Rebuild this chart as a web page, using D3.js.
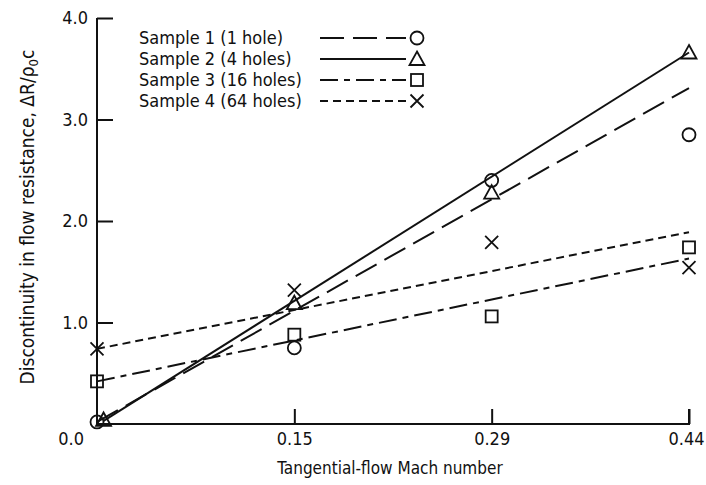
<!DOCTYPE html>
<html>
<head>
<meta charset="utf-8">
<script src="https://cdn.jsdelivr.net/npm/d3@7"></script>
<style>
  body { margin: 0; background: #fff; }
  text { font-family: "DejaVu Sans Condensed", "Liberation Sans Narrow", sans-serif; fill: #111; }
</style>
</head>
<body>
<script>
// Mach numbers at the tick positions (axis is drawn evenly spaced)
const machTicks = [0, 0.15, 0.29, 0.44];
const machLabels = ['0.15', '0.29', '0.44'];
const resTicks = [1, 2, 3, 4];
const resLabels = ['1.0', '2.0', '3.0', '4.0'];

const seriesNames = ['Sample 1 (1 hole)', 'Sample 2 (4 holes)', 'Sample 3 (16 holes)', 'Sample 4 (64 holes)'];

// measured points [mach, dR/rho0c]
const sample1 = [[0, 0.02], [0.15, 0.75], [0.29, 2.40], [0.44, 2.85]];
const sample2 = [[0.005, 0.04], [0.15, 1.19], [0.29, 2.28], [0.44, 3.66]];
const sample3 = [[0, 0.42], [0.15, 0.88], [0.29, 1.06], [0.44, 1.74]];
const sample4 = [[0, 0.74], [0.15, 1.32], [0.29, 1.79], [0.44, 1.54]];

// faired lines (end points)
const fit1 = [[0, 0.02], [0.44, 3.31]];
const fit2 = [[0.005, 0.03], [0.44, 3.66]];
const fit3 = [[0, 0.42], [0.44, 1.63]];
const fit4 = [[0, 0.74], [0.44, 1.89]];

const width = 706, height = 485;
const mLeft = 97, mRight = 689, mTop = 18, mBottom = 424;

const svg = d3.select('body').append('svg')
  .attr('width', width)
  .attr('height', height);

// piecewise scale: tick values are evenly spaced on the drawing
const x = d3.scaleLinear()
  .domain(machTicks)
  .range(machTicks.map((d, i) => mLeft + i * (mRight - mLeft) / (machTicks.length - 1)));
const y = d3.scaleLinear().domain([0, 4]).range([mBottom, mTop]);

// axes
const xAxis = svg.append('g')
  .attr('transform', `translate(0,${mBottom})`)
  .call(d3.axisBottom(x).tickValues(machTicks.slice(1)).tickSize(-15).tickSizeOuter(0)
    .tickFormat((d, i) => machLabels[i]));
const yAxis = svg.append('g')
  .attr('transform', `translate(${mLeft},0)`)
  .call(d3.axisLeft(y).tickValues(resTicks).tickSize(-16).tickSizeOuter(0)
    .tickFormat((d, i) => resLabels[i]));

[xAxis, yAxis].forEach(g => {
  g.select('.domain').attr('stroke', '#111').attr('stroke-width', 2);
  g.selectAll('.tick line').attr('stroke', '#111').attr('stroke-width', 2);
  g.selectAll('.tick text').style('font-size', '18px').attr('fill', '#111')
    .style('font-family', '"DejaVu Sans Condensed", sans-serif');
});
xAxis.select('.domain').attr('d', `M${mLeft},0H${mRight}V-15`);
yAxis.select('.domain').attr('d', `M0,${mBottom}V${mTop}`);
// x tick labels sit below the axis (ticks point up)
xAxis.selectAll('.tick text').attr('y', 8).attr('dy', '0.71em');
xAxis.selectAll('.tick:last-of-type text').attr('x', -3);
// y ticks point right
yAxis.selectAll('.tick text').attr('x', -9);

svg.append('text')
  .attr('x', mLeft - 13).attr('y', mBottom + 21)
  .attr('text-anchor', 'end')
  .style('font-size', '18px')
  .text('0.0');

// axis titles
svg.append('text')
  .attr('x', (mLeft + mRight) / 2 - 3).attr('y', 474)
  .attr('text-anchor', 'middle')
  .style('font-size', '17px')
  .text('Tangential-flow Mach number');

const yt = svg.append('text')
  .attr('transform', `translate(34,${(mTop + mBottom) / 2 - 4}) rotate(-90)`)
  .attr('text-anchor', 'middle')
  .style('font-size', '19px');
yt.append('tspan').text('Discontinuity in flow resistance,  ΔR/ρ');
yt.append('tspan').attr('dy', 4).style('font-size', '13px').text('0');
yt.append('tspan').attr('dy', -4).text('c');

// series styles
const series = [
  { name: seriesNames[0], pts: sample1, fit: fit1, dash: '24,9', sym: 'circle' },
  { name: seriesNames[1], pts: sample2, fit: fit2, dash: null, sym: 'triangle' },
  { name: seriesNames[2], pts: sample3, fit: fit3, dash: '18,6,6,6', sym: 'square' },
  { name: seriesNames[3], pts: sample4, fit: fit4, dash: '8,5', sym: 'cross' }
];

const line = d3.line().x(d => x(d[0])).y(d => y(d[1]));

function drawSymbol(g, sym, cx, cy) {
  const s = g.append('g').attr('transform', `translate(${cx},${cy})`)
    .attr('fill', 'none').attr('stroke', '#111').attr('stroke-width', 1.8);
  if (sym === 'circle') s.append('circle').attr('r', 6.5);
  if (sym === 'triangle') s.append('path').attr('d', 'M0,-7.5L7.5,6L-7.5,6Z');
  if (sym === 'square') s.append('rect').attr('x', -6).attr('y', -6).attr('width', 12).attr('height', 12);
  if (sym === 'cross') s.append('path').attr('d', 'M-6.5,-6.5L6.5,6.5M-6.5,6.5L6.5,-6.5');
}

series.forEach(s => {
  svg.append('path')
    .attr('d', line(s.fit))
    .attr('fill', 'none')
    .attr('stroke', '#111')
    .attr('stroke-width', 2)
    .attr('stroke-dasharray', s.dash);
  s.pts.forEach(p => drawSymbol(svg, s.sym, x(p[0]), y(p[1])));
});

// legend
const legend = svg.append('g');
series.forEach((s, i) => {
  const ly = 38 + i * 21;
  legend.append('text')
    .attr('x', 139).attr('y', ly + 6)
    .style('font-size', '18px')
    .text(s.name);
  legend.append('line')
    .attr('x1', 320).attr('x2', 406)
    .attr('y1', ly).attr('y2', ly)
    .attr('stroke', '#111').attr('stroke-width', 2)
    .attr('stroke-dasharray', s.dash);
  drawSymbol(legend, s.sym, 417, ly);
});
</script>
</body>
</html>
